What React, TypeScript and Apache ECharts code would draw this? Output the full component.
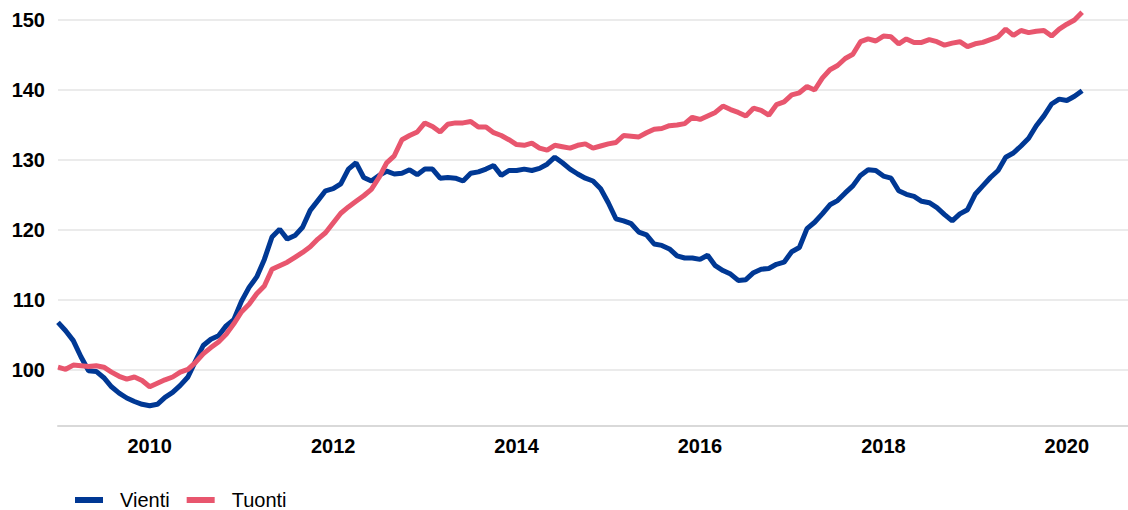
import React, { useEffect, useRef } from "react";
import * as echarts from "echarts";

// Monthly observations, Jan 2009 – Mar 2020 (axis runs to Sep 2020)
const startYear = 2009;
const totalMonths = 141;

const vienti: number[] = [
  106.8, 105.6, 104.2, 101.9, 99.9, 99.8, 98.9, 97.6, 96.7, 96.0, 95.5, 95.1,
  94.9, 95.1, 96.1, 96.8, 97.8, 99.0, 101.3, 103.5, 104.4, 104.9, 106.3, 107.2,
  109.8, 111.8, 113.3, 115.8, 119.0, 120.1, 118.7, 119.2, 120.4, 122.8, 124.2, 125.6,
  125.9, 126.6, 128.7, 129.6, 127.5, 127.0, 127.8, 128.4, 128.0, 128.1, 128.6, 127.9,
  128.7, 128.7, 127.4, 127.5, 127.4, 127.0, 128.1, 128.3, 128.7, 129.2, 127.8, 128.5,
  128.5, 128.7, 128.5, 128.8, 129.4, 130.4, 129.6, 128.7, 128.0, 127.4, 127.0, 125.9,
  123.9, 121.6, 121.3, 120.9, 119.7, 119.3, 118.0, 117.8, 117.3, 116.3, 116.0, 116.0,
  115.8, 116.4, 114.9, 114.2, 113.7, 112.8, 112.9, 113.9, 114.4, 114.5, 115.1, 115.4,
  116.9, 117.5, 120.2, 121.1, 122.3, 123.6, 124.2, 125.3, 126.3, 127.8, 128.6, 128.5,
  127.7, 127.4, 125.6, 125.1, 124.8, 124.1, 123.9, 123.2, 122.2, 121.3, 122.3, 122.9,
  125.1, 126.3, 127.5, 128.5, 130.4, 131.0, 132.0, 133.1, 134.9, 136.3, 138.0, 138.7,
  138.5, 139.1, 139.9,
];

const tuonti: number[] = [
  100.4, 100.1, 100.7, 100.6, 100.5, 100.6, 100.4, 99.7, 99.1, 98.7, 99.0, 98.5,
  97.6, 98.1, 98.6, 99.0, 99.7, 100.1, 101.1, 102.3, 103.2, 104.0, 105.1, 106.6,
  108.3, 109.4, 110.9, 112.0, 114.4, 114.9, 115.4, 116.1, 116.8, 117.6, 118.7, 119.6,
  121.0, 122.4, 123.3, 124.1, 124.9, 125.8, 127.5, 129.6, 130.6, 132.9, 133.5, 134.0,
  135.3, 134.8, 134.0, 135.1, 135.3, 135.3, 135.5, 134.7, 134.7, 133.9, 133.5, 132.9,
  132.2, 132.1, 132.4, 131.7, 131.4, 132.1, 131.9, 131.7, 132.1, 132.3, 131.7, 132.0,
  132.3, 132.5, 133.5, 133.4, 133.3, 133.9, 134.4, 134.5, 134.9, 135.0, 135.2, 136.1,
  135.8, 136.3, 136.8, 137.7, 137.2, 136.8, 136.3, 137.4, 137.1, 136.4, 137.9, 138.3,
  139.3, 139.6, 140.5, 140.0, 141.7, 142.9, 143.5, 144.5, 145.1, 146.9, 147.3, 147.0,
  147.7, 147.6, 146.6, 147.3, 146.8, 146.8, 147.2, 146.9, 146.4, 146.7, 146.9, 146.2,
  146.6, 146.8, 147.2, 147.6, 148.7, 147.8, 148.5, 148.2, 148.4, 148.5, 147.7, 148.7,
  149.4, 150.0, 151.1,
];

const gridValues: number[] = [100, 110, 120, 130, 140, 150];

const months: string[] = Array.from({ length: totalMonths }, (_, i) => {
  const y = startYear + Math.floor(i / 12);
  const m = (i % 12) + 1;
  return `${y}-${m < 10 ? "0" + m : m}`;
});

const FONT = 'Arial, "Liberation Sans", sans-serif';
const BLUE = "#003894";
const RED = "#e8566e";

export default function App() {
  const ref = useRef<HTMLDivElement>(null);

  useEffect(() => {
    if (!ref.current) return;
    const chart = echarts.init(ref.current, undefined, { renderer: "svg" });
    const pad = (arr: number[]) =>
      arr.concat(Array(totalMonths - arr.length).fill(null));

    chart.setOption({
      animation: false,
      grid: { left: 58, right: 0, top: 6, bottom: 84, containLabel: false },
      legend: {
        data: [
          { name: "Vienti", icon: "rect" },
          { name: "Tuonti", icon: "rect" },
        ],
        left: 75,
        top: 490,
        padding: 0,
        itemWidth: 28,
        itemHeight: 6,
        itemGap: 17,
        textStyle: {
          fontFamily: FONT,
          fontSize: 20,
          lineHeight: 20,
          color: "#000",
          padding: [0, 0, 0, 12],
        },
      },
      xAxis: {
        type: "category",
        data: months,
        boundaryGap: false,
        axisLine: { show: true, lineStyle: { color: "#d9d9d9", width: 2 } },
        axisTick: { show: false },
        splitLine: { show: false },
        axisLabel: {
          interval: (index: number, value: string) =>
            value.endsWith("-01") && parseInt(value.slice(0, 4)) % 2 === 0,
          formatter: (value: string) => value.slice(0, 4),
          fontFamily: FONT,
          fontSize: 20,
          fontWeight: "bold",
          color: "#000",
          margin: 10,
        },
      },
      yAxis: {
        type: "value",
        min: 92,
        max: 152,
        interval: 2,
        axisLine: { show: false },
        axisTick: { show: false },
        splitLine: { show: false },
        axisLabel: {
          formatter: (v: number) => (v % 10 === 0 ? String(v) : ""),
          fontFamily: FONT,
          fontSize: 20,
          fontWeight: "bold",
          color: "#000",
          margin: 13,
        },
      },
      series: [
        {
          name: "grid",
          type: "line",
          data: Array(totalMonths).fill(null),
          z: 1,
          silent: true,
          markLine: {
            z: 1,
            silent: true,
            symbol: "none",
            label: { show: false },
            lineStyle: { color: "#ebebeb", width: 2, type: "solid" },
            data: gridValues.map((v) => ({ yAxis: v })),
          },
        },
        {
          name: "Vienti",
          type: "line",
          data: pad(vienti),
          showSymbol: false,
          symbol: "none",
          z: 3,
          lineStyle: { color: BLUE, width: 5 },
          itemStyle: { color: BLUE },
        },
        {
          name: "Tuonti",
          type: "line",
          data: pad(tuonti),
          showSymbol: false,
          symbol: "none",
          z: 4,
          lineStyle: { color: RED, width: 5 },
          itemStyle: { color: RED },
        },
      ],
    });

    return () => chart.dispose();
  }, []);

  return (
    <div
      ref={ref}
      style={{ position: "absolute", left: 0, top: 0, width: 1128, height: 510 }}
    />
  );
}
